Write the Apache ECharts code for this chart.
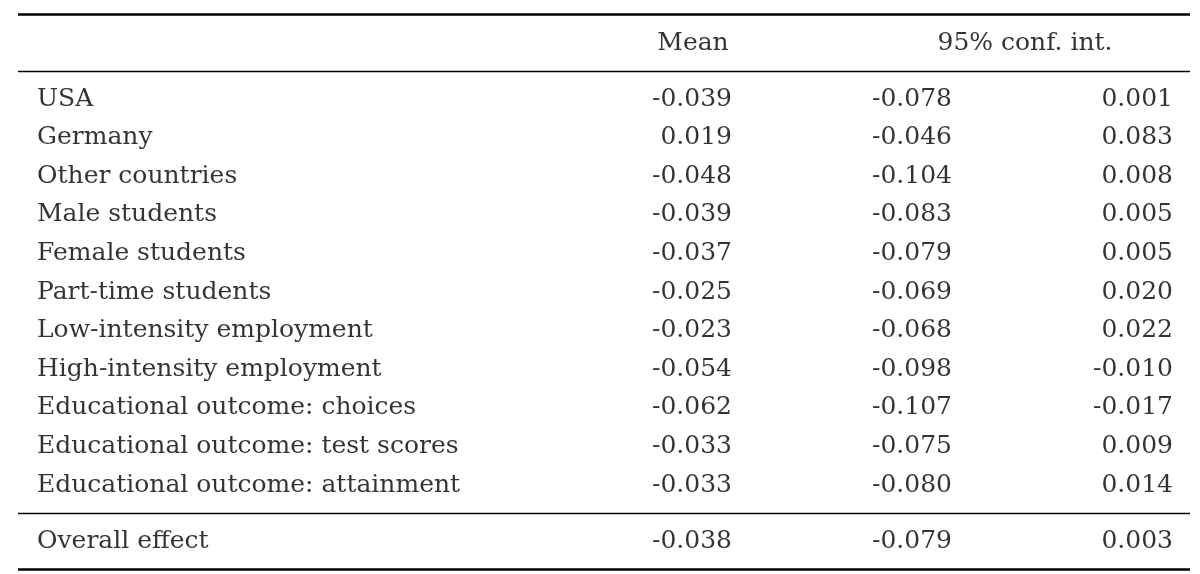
<!DOCTYPE html>
<html><head><meta charset="utf-8">
<script src="https://cdn.jsdelivr.net/npm/echarts@6/dist/echarts.min.js"></script>
<style>html,body{margin:0;padding:0;background:#fff}#c{width:1200px;height:574px}</style>
</head><body><div id="c"></div>
<script>
const headers = ["", "Mean", "95% conf. int."];
const rowLabels = ["USA","Germany","Other countries","Male students","Female students","Part-time students","Low-intensity employment","High-intensity employment","Educational outcome: choices","Educational outcome: test scores","Educational outcome: attainment"];
const means = ["-0.039","0.019","-0.048","-0.039","-0.037","-0.025","-0.023","-0.054","-0.062","-0.033","-0.033"];
const ciLow = ["-0.078","-0.046","-0.104","-0.083","-0.079","-0.069","-0.068","-0.098","-0.107","-0.075","-0.080"];
const ciHigh = ["0.001","0.083","0.008","0.005","0.005","0.020","0.022","-0.010","-0.017","0.009","0.014"];
const overall = ["Overall effect","-0.038","-0.079","0.003"];

const colX = {label:37, mean:732, lo:952, hi:1173, headMean:693, headCI:1025};
const headerY = 43, firstRowY = 99, rowStep = 38.6, overallY = 541;
const font = "'DejaVu Serif','Liberation Serif',serif";

function textSeries(points, align){
  return {type:'scatter', symbolSize:0, silent:true, data:points.map(p=>({value:[p[0],p[1]], name:p[2]})),
    label:{show:true, position:'inside', formatter:d=>d.name, align:align, verticalAlign:'middle',
      fontFamily:font, fontSize:25, color:'#000'}};
}
const left=[], right=[], center=[];
center.push([colX.headMean, headerY, headers[1]]);
center.push([colX.headCI, headerY, headers[2]]);
rowLabels.forEach((l,i)=>{
  const y = firstRowY + i*rowStep;
  left.push([colX.label, y, l]);
  right.push([colX.mean, y, means[i]]);
  right.push([colX.lo, y, ciLow[i]]);
  right.push([colX.hi, y, ciHigh[i]]);
});
left.push([colX.label, overallY, overall[0]]);
right.push([colX.mean, overallY, overall[1]]);
right.push([colX.lo, overallY, overall[2]]);
right.push([colX.hi, overallY, overall[3]]);

const rules = [[14,2.5],[71,1.3],[513,1.3],[569,2.5]];
const chart = echarts.init(document.getElementById('c'));
chart.setOption({
  animation:false,
  grid:{left:0,right:0,top:0,bottom:0},
  xAxis:{type:'value',min:0,max:1200,show:false},
  yAxis:{type:'value',min:0,max:574,inverse:true,show:false},
  series:[
    textSeries(left,'left'), textSeries(right,'right'), textSeries(center,'center'),
    {type:'lines', coordinateSystem:'cartesian2d', silent:true,
     data:rules.map(r=>({coords:[[18,r[0]],[1190,r[0]]], lineStyle:{width:r[1],color:'#000',opacity:1}}))}
  ]
});
</script></body></html>
